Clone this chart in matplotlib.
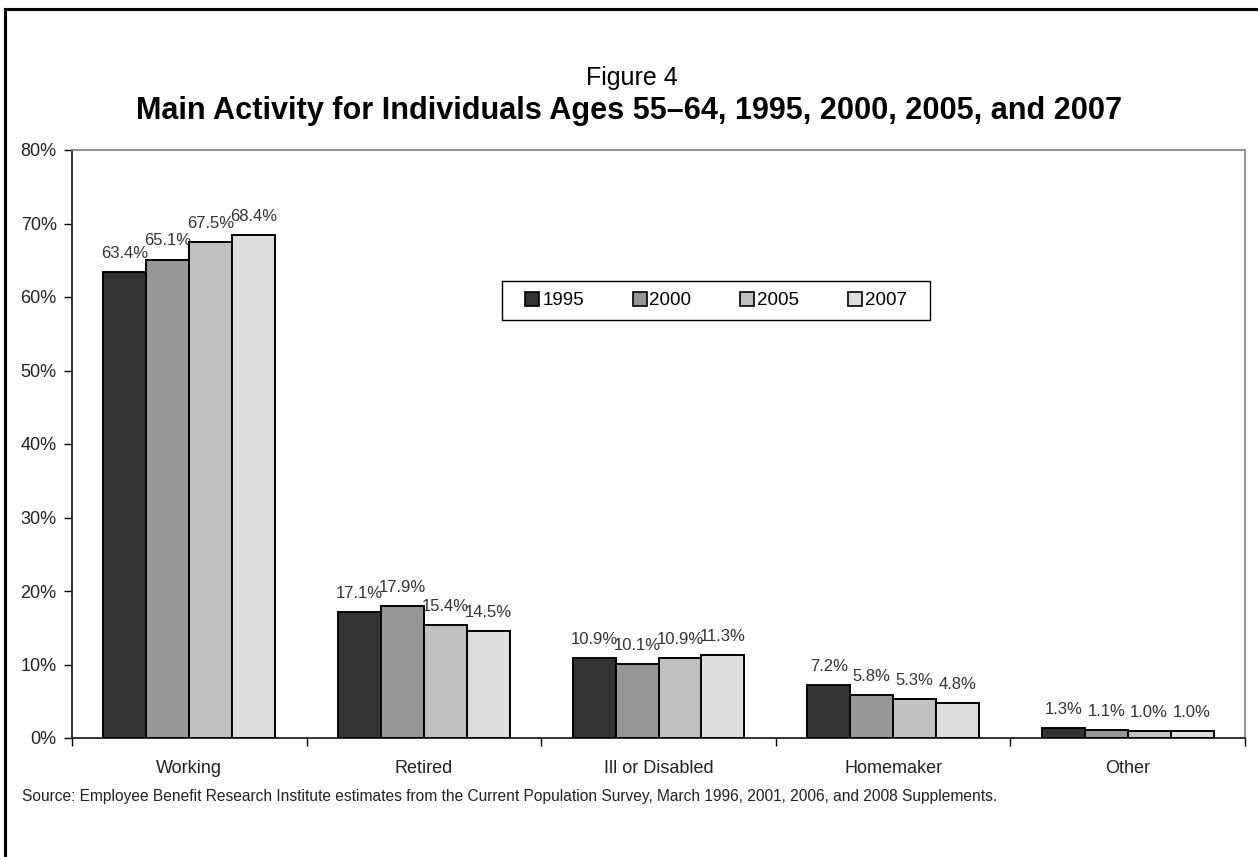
import matplotlib
matplotlib.use("Agg")
import matplotlib.pyplot as plt
import numpy as np
from matplotlib.lines import Line2D
from matplotlib.patches import Patch, Rectangle

plt.rcParams["font.family"] = ["Liberation Sans", "DejaVu Sans"]

categories = ["Working", "Retired", "Ill or Disabled", "Homemaker", "Other"]
years = ["1995", "2000", "2005", "2007"]
v1995 = [63.4, 17.1, 10.9, 7.2, 1.3]
v2000 = [65.1, 17.9, 10.1, 5.8, 1.1]
v2005 = [67.5, 15.4, 10.9, 5.3, 1.0]
v2007 = [68.4, 14.5, 11.3, 4.8, 1.0]
y_ticks = [0, 10, 20, 30, 40, 50, 60, 70, 80]

colors = ["#333333", "#969696", "#c0c0c0", "#dddddd"]
series = [v1995, v2000, v2005, v2007]

W, H = 1258, 857
fig = plt.figure(figsize=(W / 100, H / 100), dpi=100)
ax = fig.add_axes([72 / W, 1 - 738 / H, (1245 - 72) / W, (738 - 150) / H])

x = np.arange(len(categories))
bar_w = 0.183
for i, (vals, col) in enumerate(zip(series, colors)):
    offs = (i - 1.5) * bar_w
    bars = ax.bar(x + offs, vals, bar_w, color=col, edgecolor="black", linewidth=1.4,
                  label=years[i], zorder=3)
    for b, v in zip(bars, vals):
        ax.annotate(f"{v:.1f}%", xy=(b.get_x() + b.get_width() / 2, v),
                    xytext=(0, 8), textcoords="offset points",
                    ha="center", va="bottom", fontsize=12, color="#333333")

ax.set_xlim(-0.5, len(categories) - 0.5)
ax.set_ylim(0, 80)
ax.set_yticks(y_ticks)
ax.set_yticklabels([f"{t}%" for t in y_ticks], fontsize=13, color="#222222")
ax.set_xticks(np.arange(-0.5, len(categories), 1.0))
ax.set_xticklabels([])
ax.set_xticks(x, minor=True)
ax.set_xticklabels(categories, minor=True, fontsize=13, color="#222222")
ax.tick_params(axis="x", which="minor", length=0, pad=16)
ax.tick_params(axis="x", which="major", length=6, direction="out", width=1)
ax.tick_params(axis="y", length=6, direction="out", width=1, pad=5)

for s in ("top", "right"):
    ax.spines[s].set_color("#8c8c8c")
    ax.spines[s].set_linewidth(1.3)
for s in ("left", "bottom"):
    ax.spines[s].set_color("#222222")
    ax.spines[s].set_linewidth(1.3)

# legend box drawn by hand so its padding matches the original
lx0, lx1 = (502 - 72) / 1173, (930 - 72) / 1173
ly0, ly1 = (738 - 320) / 588, (738 - 281) / 588
ax.add_patch(Rectangle((lx0, ly0), lx1 - lx0, ly1 - ly0, transform=ax.transAxes,
                       facecolor="white", edgecolor="black", linewidth=1.0, zorder=4))
handles = [Patch(facecolor=c, edgecolor="black", linewidth=1.2) for c in colors]
leg = ax.legend(handles, years, loc="center", bbox_to_anchor=((lx0 + lx1) / 2, (ly0 + ly1) / 2),
                ncol=4, frameon=False, fontsize=13.5,
                handlelength=0.75, handleheight=0.75, handletextpad=0.15, borderaxespad=0,
                columnspacing=2.6, borderpad=0)
leg.set_zorder(5)

fig.text(632 / W, 1 - 78 / H, "Figure 4", ha="center", va="center", fontsize=18)
fig.text(629 / W, 1 - 111 / H,
         "Main Activity for Individuals Ages 55\u201364, 1995, 2000, 2005, and 2007",
         ha="center", va="center", fontsize=22.1, fontweight="bold")
fig.text(22 / W, 1 - 797 / H,
         "Source: Employee Benefit Research Institute estimates from the Current Population "
         "Survey, March 1996, 2001, 2006, and 2008 Supplements.",
         ha="left", va="center", fontsize=11.2, color="#222222")

# outer frame (right and bottom edges fall outside the crop)
fig.add_artist(Line2D([5 / W, 5 / W], [0, 1 - 9 / H], color="black", linewidth=2.2,
                      transform=fig.transFigure))
fig.add_artist(Line2D([5 / W, 1], [1 - 9 / H, 1 - 9 / H], color="black", linewidth=2.2,
                      transform=fig.transFigure))

fig.savefig("out.png", dpi=100)
